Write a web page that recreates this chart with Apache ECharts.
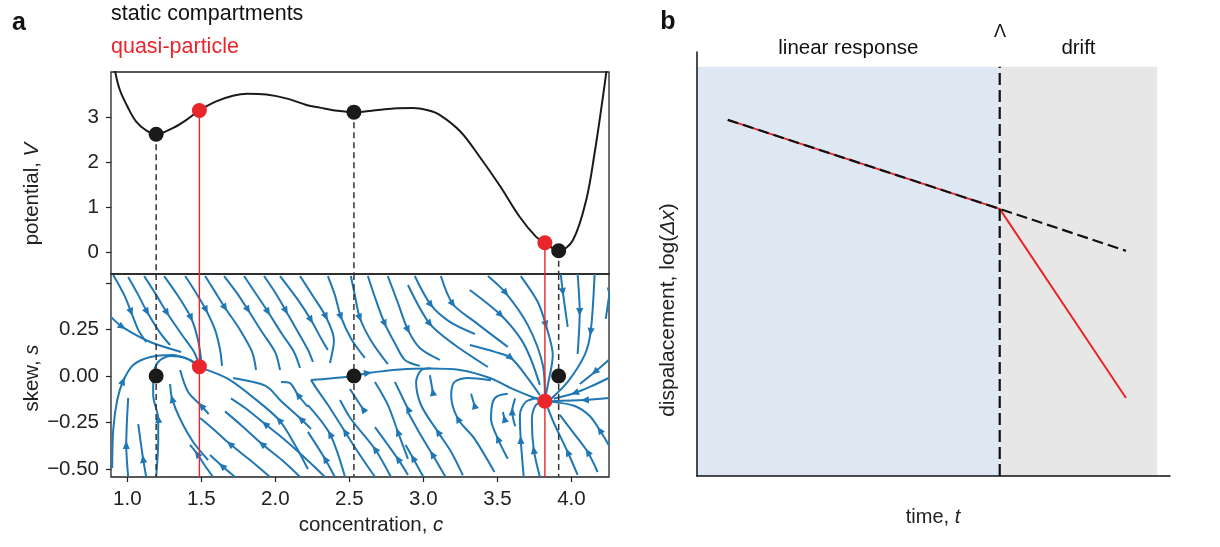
<!DOCTYPE html>
<html>
<head>
<meta charset="utf-8">
<script src="https://cdn.jsdelivr.net/npm/echarts@6/dist/echarts.min.js"></script>
<style>html,body{margin:0;padding:0;background:#fff;}#c{width:1220px;height:547px;}</style>
</head>
<body>
<div id="c"></div>
<script>
// ---------- panel a : potential ----------
const potentialC = [0.905,0.92,0.95,1.0,1.06,1.13,1.195,1.31,1.40,1.487,1.60,1.72,1.81,1.94,2.08,2.21,2.30,2.42,2.531,2.65,2.80,2.93,3.03,3.11,3.25,3.38,3.52,3.65,3.76,3.821,3.914,4.01,4.10,4.16,4.21,4.235,4.25];
const potentialV = [4.35,3.98,3.6,3.24,2.9,2.70,2.62,2.76,2.94,3.147,3.35,3.48,3.52,3.50,3.41,3.27,3.21,3.14,3.11,3.14,3.19,3.20,3.15,3.05,2.68,2.12,1.46,0.79,0.35,0.213,0.036,0.27,1.16,2.27,3.38,3.98,4.4];
// fixed points
const compartC = [1.195, 2.531, 3.914];
const compartV = [2.62, 3.11, 0.036];
const compartS = [0, 0, 0];
const particleC = [1.487, 3.821];
const particleV = [3.147, 0.213];
const particleS = [0.05, -0.135];
// tick labels
const cTicks = [1.0,1.5,2.0,2.5,3.0,3.5,4.0];
const vTicks = [0,1,2,3];
const sTicks = [-0.5,-0.25,0,0.25,0.5];
const sLabels = [-0.5,-0.25,0,0.25];
// streamlines (c, s), in flow direction
const streamlines = [
 [[0.89,0.317],[0.966,0.263],[1.155,0.182],[1.364,0.129]],
 [[0.905,0.542],[0.979,0.435],[1.026,0.343],[1.074,0.247],[1.128,0.182]],
 [[1.006,0.531],[1.074,0.435],[1.134,0.343],[1.222,0.231],[1.289,0.166]],
 [[1.114,0.536],[1.195,0.435],[1.269,0.338],[1.370,0.220],[1.451,0.129],[1.485,0.059]],
 [[1.249,0.536],[1.343,0.429],[1.431,0.311],[1.478,0.193],[1.499,0.086]],
 [[1.391,0.536],[1.465,0.445],[1.532,0.354],[1.593,0.247],[1.627,0.139],[1.640,0.054]],
 [[0.898,-0.494],[0.905,-0.290],[0.932,-0.129],[0.972,-0.027],[1.040,0.059],[1.155,0.102],[1.303,0.113],[1.424,0.086],[1.485,0.054]],
 [[1.195,-0.542],[1.209,-0.343],[1.209,-0.231],[1.175,-0.102],[1.175,0.005],[1.209,0.075],[1.289,0.107],[1.391,0.097],[1.478,0.054]],
 [[1.006,-0.542],[0.993,-0.370],[1.006,-0.118]],
 [[1.128,-0.542],[1.107,-0.445],[1.074,-0.258]],
 [[1.546,-0.451],[1.445,-0.354],[1.357,-0.231],[1.303,-0.123],[1.289,-0.043]],
 [[1.55,-0.205],[1.50,-0.16],[1.411,-0.086],[1.357,0.032]],
 [[1.580,-0.542],[1.526,-0.483],[1.472,-0.418],[1.424,-0.370]],
 [[2.220,-0.499],[2.133,-0.370],[2.025,-0.236],[1.863,-0.123],[1.681,-0.016],[1.519,0.038]],
 [[2.241,-0.284],[2.173,-0.231],[2.032,-0.129],[1.964,-0.070],[1.904,-0.043],[1.715,-0.011]],
 [[2.220,-0.166],[2.153,-0.102],[2.099,-0.038],[2.038,-0.032]],
 [[1.964,-0.542],[1.829,-0.451],[1.694,-0.365],[1.573,-0.279],[1.492,-0.225]],
 [[2.167,-0.542],[2.045,-0.451],[1.910,-0.365],[1.775,-0.268],[1.66,-0.19]],
 [[2.336,-0.542],[2.201,-0.440],[2.065,-0.343],[1.931,-0.258],[1.796,-0.172],[1.70,-0.12]],
 [[1.728,-0.542],[1.640,-0.483],[1.559,-0.424]],
 [[2.673,-0.542],[2.558,-0.408],[2.471,-0.300],[2.356,-0.156],[2.275,-0.064],[2.241,-0.021]],
 [[2.241,-0.021],[2.369,-0.013],[2.531,0.0],[2.626,0.016],[2.842,0.035],[3.044,0.040],[3.247,0.032],[3.449,-0.011],[3.618,-0.075],[3.753,-0.118],[3.821,-0.134]],
 [[2.471,-0.542],[2.369,-0.311],[2.220,-0.156]],
 [[2.402,-0.542],[2.336,-0.445],[2.220,-0.300]],
 [[2.781,-0.542],[2.673,-0.392],[2.511,-0.231],[2.437,-0.129]],
 [[2.612,-0.193],[2.592,-0.177],[2.504,-0.070]],
 [[2.896,-0.445],[2.828,-0.300],[2.761,-0.156],[2.673,-0.032]],
 [[2.896,-0.177],[2.808,-0.032]],
 [[2.896,-0.531],[2.828,-0.445],[2.673,-0.274]],
 [[3.267,-0.533],[3.188,-0.408],[3.098,-0.300],[2.985,-0.157],[2.951,-0.032],[2.985,0.031],[3.05,0.042]],
 [[3.064,-0.086],[3.044,0.004]],
 [[3.480,-0.515],[3.345,-0.336],[3.233,-0.229],[3.188,-0.104],[3.211,-0.032],[3.300,-0.011],[3.457,-0.023]],
 [[3.345,-0.157],[3.322,-0.095]],
 [[3.570,-0.444],[3.503,-0.336],[3.457,-0.229],[3.469,-0.139],[3.503,-0.107],[3.570,-0.095]],
 [[3.548,-0.229],[3.537,-0.193]],
 [[3.15,-0.542],[3.06,-0.42],[2.97,-0.30],[2.90,-0.20]],
 [[3.00,-0.542],[2.93,-0.44],[2.88,-0.37]],
 [[3.787,-0.542],[3.746,-0.397],[3.733,-0.236],[3.760,-0.156],[3.821,-0.134]],
 [[3.678,-0.542],[3.658,-0.343],[3.652,-0.209],[3.692,-0.139],[3.773,-0.118]],
 [[3.62,-0.27],[3.60,-0.19],[3.62,-0.12]],
 [[4.042,-0.531],[3.975,-0.408],[3.888,-0.263],[3.841,-0.172]],
 [[4.177,-0.515],[4.110,-0.408],[4.009,-0.300],[3.922,-0.209]],
 [[4.252,-0.370],[4.191,-0.290],[4.124,-0.215],[4.023,-0.161],[3.87,-0.139]],
 [[4.252,0.086],[4.158,0.021],[4.057,-0.043]],
 [[4.252,-0.011],[4.137,-0.054],[4.023,-0.091],[3.88,-0.122]],
 [[4.252,-0.118],[4.091,-0.129],[3.86,-0.135]],
 [[2.942,0.536],[3.051,0.381],[3.179,0.290],[3.348,0.225]],
 [[2.896,0.488],[3.044,0.279],[3.213,0.166],[3.436,0.048]],
 [[3.118,0.536],[3.199,0.386],[3.348,0.290],[3.570,0.156]],
 [[3.436,0.536],[3.557,0.445],[3.705,0.274],[3.807,0.059],[3.821,-0.118]],
 [[3.658,0.536],[3.773,0.397],[3.827,0.274],[3.874,0.113],[3.841,-0.048],[3.821,-0.123]],
 [[3.314,0.461],[3.523,0.327],[3.658,0.199],[3.726,0.091],[3.787,-0.048]],
 [[3.314,0.166],[3.483,0.129],[3.591,0.097],[3.705,-0.011],[3.787,-0.102]],
 [[3.928,0.547],[3.942,0.451],[3.975,0.263]],
 [[4.042,0.547],[4.056,0.343],[4.042,0.118]],
 [[4.157,0.547],[4.130,0.236],[4.090,0.113],[3.975,-0.032],[3.854,-0.129]],
 [[4.259,0.451],[4.232,0.306]],
 [[2.032,0.536],[2.153,0.408],[2.241,0.300],[2.315,0.193],[2.355,0.139]],
 [[2.167,0.536],[2.254,0.429],[2.342,0.317],[2.396,0.193],[2.369,0.070]],
 [[2.355,0.536],[2.402,0.435],[2.443,0.317],[2.517,0.193],[2.605,0.097]],
 [[2.510,0.536],[2.537,0.435],[2.571,0.311],[2.652,0.182],[2.760,0.064]],
 [[2.625,0.536],[2.679,0.408],[2.740,0.279],[2.814,0.166],[2.875,0.086],[2.976,0.054]],
 [[2.760,0.536],[2.828,0.392],[2.896,0.247],[2.976,0.150],[3.111,0.086]],
 [[1.526,0.536],[1.593,0.451],[1.661,0.365],[1.762,0.247],[1.843,0.129],[1.870,0.032]],
 [[1.654,0.536],[1.735,0.451],[1.816,0.354],[1.910,0.236],[1.998,0.129],[2.032,0.032]],
 [[1.789,0.536],[1.870,0.440],[1.951,0.343],[2.045,0.225],[2.126,0.129],[2.167,0.043]],
 [[1.924,0.536],[2.005,0.440],[2.072,0.349],[2.153,0.236],[2.221,0.139],[2.254,0.075]]
];
const arrowAt = [1,2,2,2,2,2,3,2,1,1,3,1,2,2,1,1,2,2,3,1,2,3,1,1,1,1,1,0,1,2,0,2,0,1,0,1,1,1,1,1,1,1,1,1,2,1,1,1,1,1,2,1,2,1,1,1,0,2,2,2,2,2,2,2,2,2,2];

// ---------- panel b ----------
const timeT = [6.5, 64, 90.7];
const staticLog = [84, 63, 53.1];
const quasiLog = [84, 63, 18.4];
const lambdaT = 64;
const shadeEndT = 97.3;
const shadeTopLog = 96.5;

// ---------- styles ----------
const FONT = 'Liberation Sans, Arial, Helvetica, sans-serif';
const RED = '#e8262b', BLUE = '#1f77b4', INK = '#1a1a1a';
const C_MIN = 0.89, C_MAX = 4.254, V_MIN = -0.48, V_MAX = 4.0, S_MIN = -0.542, S_MAX = 0.547;

const chart = echarts.init(document.getElementById('c'), null, {renderer: 'canvas'});

const series = [];
series.push({type:'line', xAxisIndex:0, yAxisIndex:0, data: potentialC.map((c,i)=>[c, potentialV[i]]),
  smooth:0.35, showSymbol:false, lineStyle:{color:INK, width:2}, z:3, silent:true});
compartC.forEach((c,i)=>series.push({type:'line', xAxisIndex:0, yAxisIndex:0, data:[[c,compartV[i]],[c,V_MIN]],
  showSymbol:false, lineStyle:{color:'#333', width:1.5, type:[6,4]}, z:2, silent:true}));
particleC.forEach((c,i)=>series.push({type:'line', xAxisIndex:0, yAxisIndex:0, data:[[c,particleV[i]],[c,V_MIN]],
  showSymbol:false, lineStyle:{color:RED, width:1.4}, z:2, silent:true}));
streamlines.forEach(l=>series.push({type:'line', xAxisIndex:1, yAxisIndex:1, data:l, smooth:0.3,
  showSymbol:false, lineStyle:{color:BLUE, width:2}, z:2, silent:true}));
series.push({type:'custom', xAxisIndex:1, yAxisIndex:1, clip:true, z:3, silent:true,
  data: streamlines.map((l,i)=>[l[arrowAt[i]][0], l[arrowAt[i]][1], i]),
  encode:{x:0,y:1},
  renderItem:function(params, api){
    const i = api.value(2); const l = streamlines[i]; const k = arrowAt[i];
    const p = api.coord(l[k]);
    const a = api.coord(l[Math.max(0,k-1)]), b = api.coord(l[Math.min(l.length-1,k+1)]);
    let dx=b[0]-a[0], dy=b[1]-a[1]; const L=Math.hypot(dx,dy)||1; dx/=L; dy/=L;
    const len=8, hw=3.6;
    return {type:'polygon', shape:{points:[
      [p[0]+dx*len/2, p[1]+dy*len/2],
      [p[0]-dx*len/2-dy*hw, p[1]-dy*len/2+dx*hw],
      [p[0]-dx*len/2+dy*hw, p[1]-dy*len/2-dx*hw]]}, style:{fill:BLUE}};
  }});
compartC.forEach(c=>series.push({type:'line', xAxisIndex:1, yAxisIndex:1, data:[[c,S_MAX],[c,S_MIN]],
  showSymbol:false, lineStyle:{color:'#333', width:1.5, type:[6,4]}, z:4, silent:true}));
particleC.forEach(c=>series.push({type:'line', xAxisIndex:1, yAxisIndex:1, data:[[c,S_MAX],[c,S_MIN]],
  showSymbol:false, lineStyle:{color:RED, width:1.4}, z:4, silent:true}));
const dot = (color)=>({color:color, opacity:1, borderWidth:0});
series.push({type:'scatter', xAxisIndex:0, yAxisIndex:0, data:compartC.map((c,i)=>[c,compartV[i]]), symbolSize:15, itemStyle:dot(INK), z:6, silent:true});
series.push({type:'scatter', xAxisIndex:0, yAxisIndex:0, data:particleC.map((c,i)=>[c,particleV[i]]), symbolSize:15, itemStyle:dot(RED), z:6, silent:true});
series.push({type:'scatter', xAxisIndex:1, yAxisIndex:1, data:compartC.map((c,i)=>[c,compartS[i]]), symbolSize:15, itemStyle:dot(INK), z:6, silent:true});
series.push({type:'scatter', xAxisIndex:1, yAxisIndex:1, data:particleC.map((c,i)=>[c,particleS[i]]), symbolSize:15, itemStyle:dot(RED), z:6, silent:true});

series.push({type:'line', xAxisIndex:2, yAxisIndex:2, data:[], z:1, silent:true,
  markArea:{silent:true, label:{show:true, position:'top', distance:8, fontSize:20.5, fontFamily:FONT, color:'#111'},
    data:[
      [{name:'linear response', xAxis:0, yAxis:0, itemStyle:{color:'#dde8f3'}},{xAxis:lambdaT, yAxis:shadeTopLog}],
      [{name:'drift', xAxis:lambdaT, yAxis:0, itemStyle:{color:'#e7e7e7'}},{xAxis:shadeEndT, yAxis:shadeTopLog}]
    ]}});
series.push({type:'line', xAxisIndex:2, yAxisIndex:2, data:timeT.map((t,i)=>[t,quasiLog[i]]), showSymbol:false,
  lineStyle:{color:RED, width:2}, z:3, silent:true});
series.push({type:'line', xAxisIndex:2, yAxisIndex:2, data:timeT.map((t,i)=>[t,staticLog[i]]), showSymbol:false,
  lineStyle:{color:'#111', width:2.2, type:[11,5]}, z:4, silent:true});
series.push({type:'line', xAxisIndex:2, yAxisIndex:2, data:[[lambdaT,0],[lambdaT,shadeTopLog]], showSymbol:false,
  lineStyle:{color:'#111', width:2.2, type:[12,5]}, z:4, silent:true});

const tickLabel = {fontSize:20.5, fontFamily:FONT, color:'#222'};
const option = {
  animation:false,
  backgroundColor:'#fff',
  grid:[
    {left:111, top:72, width:498, height:202, show:true, borderColor:'#222', borderWidth:1.3, backgroundColor:'transparent', outerBoundsMode:'none'},
    {left:111, top:274, width:498, height:203, show:true, borderColor:'#222', borderWidth:1.3, backgroundColor:'transparent', outerBoundsMode:'none'},
    {left:697, top:52, width:473, height:424, show:false, outerBoundsMode:'none'}
  ],
  xAxis:[
    {gridIndex:0, type:'value', min:C_MIN, max:C_MAX, axisLine:{show:false, onZero:false}, axisTick:{show:false}, axisLabel:{show:false}, splitLine:{show:false}},
    {gridIndex:1, type:'value', min:C_MIN, max:C_MAX, axisLine:{show:false, onZero:false}, splitLine:{show:false},
      axisTick:{show:true, length:5, lineStyle:{color:'#222', width:1.2}, customValues:cTicks},
      axisLabel:Object.assign({show:true, margin:12, customValues:cTicks, formatter:v=>Number(v).toFixed(1)}, tickLabel)},
    {gridIndex:2, type:'value', min:0, max:100, z:10, axisLine:{show:true, onZero:false, lineStyle:{color:'#111', width:1.5}}, axisTick:{show:false}, axisLabel:{show:false}, splitLine:{show:false}}
  ],
  yAxis:[
    {gridIndex:0, type:'value', min:V_MIN, max:V_MAX, axisLine:{show:false, onZero:false}, splitLine:{show:false},
      axisTick:{show:true, length:5, lineStyle:{color:'#222', width:1.2}, customValues:vTicks},
      axisLabel:Object.assign({show:true, margin:12, customValues:vTicks, formatter:v=>String(Math.round(v))}, tickLabel)},
    {gridIndex:1, type:'value', min:S_MIN, max:S_MAX, axisLine:{show:false, onZero:false}, splitLine:{show:false},
      axisTick:{show:true, length:5, lineStyle:{color:'#222', width:1.2}, customValues:sTicks},
      axisLabel:Object.assign({show:true, margin:12, customValues:sLabels, formatter:v=>(v<0?'\u2212':'')+Math.abs(v).toFixed(2)}, tickLabel)},
    {gridIndex:2, type:'value', min:0, max:100, z:10, axisLine:{show:true, onZero:false, lineStyle:{color:'#111', width:1.5}}, axisTick:{show:false}, axisLabel:{show:false}, splitLine:{show:false}}
  ],
  series: series,
  graphic:[
    {type:'text', x:19, y:23, style:{text:'a', fontSize:25, fontWeight:'bold', fontFamily:FONT, fill:'#111', align:'center', verticalAlign:'middle'}},
    {type:'text', x:668, y:22, style:{text:'b', fontSize:25, fontWeight:'bold', fontFamily:FONT, fill:'#111', align:'center', verticalAlign:'middle'}},
    {type:'text', x:111, y:14, style:{text:'static compartments', fontSize:21.5, fontFamily:FONT, fill:'#111', align:'left', verticalAlign:'middle'}},
    {type:'text', x:111, y:47, style:{text:'quasi-particle', fontSize:21.5, fontFamily:FONT, fill:RED, align:'left', verticalAlign:'middle'}},
    {type:'text', x:32, y:194, rotation:Math.PI/2, style:{text:'{n|potential, }{i|V}', align:'center', verticalAlign:'middle',
      rich:{n:{fontSize:20.5, fontFamily:FONT, fill:'#222'}, i:{fontSize:20.5, fontFamily:FONT, fontStyle:'italic', fill:'#222'}}}},
    {type:'text', x:32, y:378, rotation:Math.PI/2, style:{text:'{n|skew, }{i|s}', align:'center', verticalAlign:'middle',
      rich:{n:{fontSize:20.5, fontFamily:FONT, fill:'#222'}, i:{fontSize:20.5, fontFamily:FONT, fontStyle:'italic', fill:'#222'}}}},
    {type:'text', x:371, y:525, style:{text:'{n|concentration, }{i|c}', align:'center', verticalAlign:'middle',
      rich:{n:{fontSize:20.5, fontFamily:FONT, fill:'#222'}, i:{fontSize:20.5, fontFamily:FONT, fontStyle:'italic', fill:'#222'}}}},
    {type:'text', x:1000, y:32, style:{text:'\u039B', fontSize:18, fontFamily:FONT, fill:'#111', align:'center', verticalAlign:'middle'}},
    {type:'text', x:774, y:182, style:{text:'{n|-}{i|f}{n|(}{i|x}{n|)}', align:'center', verticalAlign:'middle',
      rich:{n:{fontSize:20, fontFamily:FONT, fill:'#222'}, i:{fontSize:20, fontFamily:FONT, fontStyle:'italic', fill:'#222'}}}},
    {type:'text', x:727, y:406, style:{text:'static compartments', fontSize:20, fontFamily:FONT, fill:'#111', align:'left', verticalAlign:'middle'}},
    {type:'text', x:727, y:438, style:{text:'quasi-particle', fontSize:20, fontFamily:FONT, fill:RED, align:'left', verticalAlign:'middle'}},
    {type:'text', x:1084, y:443, style:{text:'{n|-}{i|f}{n|(}{i|x}{n|)}{r| - }{ri|\u03B3f }{r|\u201D(}{ri|x}{r|)}', align:'center', verticalAlign:'middle',
      rich:{n:{fontSize:20, fontFamily:FONT, fill:'#222'}, i:{fontSize:20, fontFamily:FONT, fontStyle:'italic', fill:'#222'},
            r:{fontSize:20, fontFamily:FONT, fill:RED}, ri:{fontSize:20, fontFamily:FONT, fontStyle:'italic', fill:RED}}}},
    {type:'text', x:933, y:517, style:{text:'{n|time, }{i|t}', align:'center', verticalAlign:'middle',
      rich:{n:{fontSize:20, fontFamily:FONT, fill:'#222'}, i:{fontSize:20, fontFamily:FONT, fontStyle:'italic', fill:'#222'}}}},
    {type:'text', x:668, y:310, rotation:Math.PI/2, style:{text:'{n|dispalacement, log(}{i|\u0394x}{n|)}', align:'center', verticalAlign:'middle',
      rich:{n:{fontSize:21, fontFamily:FONT, fill:'#222'}, i:{fontSize:21, fontFamily:FONT, fontStyle:'italic', fill:'#222'}}}}
  ]
};
chart.setOption(option);
</script>
</body>
</html>
